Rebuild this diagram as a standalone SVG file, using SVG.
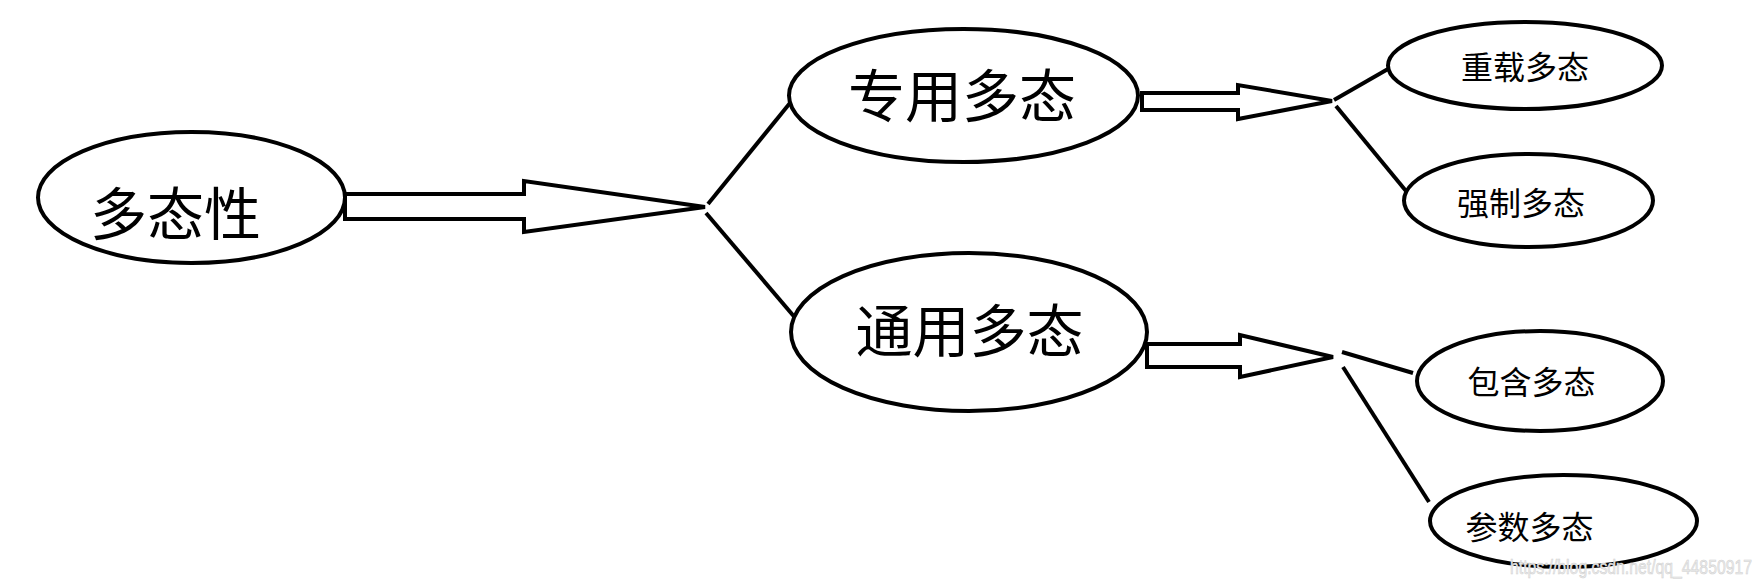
<svg xmlns="http://www.w3.org/2000/svg" width="1764" height="586" viewBox="0 0 1764 586">
<style>
.node ellipse{fill:#fff;stroke:#000;stroke-width:4}
.lbl{font-family:"Noto Sans CJK SC","Noto Sans CJK JP",sans-serif;fill:#000;text-anchor:middle}
.big{font-size:57px}
.small{font-size:32px}
.arrow{fill:#fff;stroke:#000;stroke-width:4;stroke-linejoin:miter}
.link{stroke:#000;stroke-width:4;fill:none}
.wm{font-family:"Liberation Sans",Arial,sans-serif;font-size:21px;fill:#ececec;stroke:#d0d0d0;stroke-width:0.6}
</style>
<rect width="1764" height="586" fill="#fff"/>
<g id="connectors">
<polygon class="arrow" points="345,194 524,194 524,181 705,207 524,232 524,219 345,219"/>
<polygon class="arrow" points="1142,93 1238,93 1238,85 1332,101 1238,119 1238,110 1142,110"/>
<polygon class="arrow" points="1147,344 1240,344 1240,335 1333,357 1240,377 1240,367 1147,367"/>
<line class="link" x1="708" y1="204" x2="790" y2="103"/>
<line class="link" x1="706" y1="213" x2="797" y2="320"/>
<line class="link" x1="1334" y1="100" x2="1388" y2="69"/>
<line class="link" x1="1336" y1="106" x2="1406" y2="191"/>
<line class="link" x1="1342" y1="352" x2="1413" y2="373"/>
<line class="link" x1="1343" y1="367" x2="1429" y2="502"/>
</g>
<g id="n-polymorphism" class="node">
<ellipse cx="191.5" cy="197.5" rx="153.5" ry="65.5"/>
<text class="lbl big" x="175.5" y="235">多态性</text>
</g>
<g id="n-adhoc" class="node">
<ellipse cx="963.5" cy="95.5" rx="174.5" ry="66.5"/>
<text class="lbl big" x="962" y="117">专用多态</text>
</g>
<g id="n-universal" class="node">
<ellipse cx="969" cy="332" rx="178" ry="79"/>
<text class="lbl big" x="969.5" y="351.5">通用多态</text>
</g>
<g id="n-overload" class="node">
<ellipse cx="1525" cy="65.5" rx="137" ry="43.5"/>
<text class="lbl small" x="1525" y="78.5">重载多态</text>
</g>
<g id="n-coercion" class="node">
<ellipse cx="1528.5" cy="200.5" rx="124.5" ry="46.5"/>
<text class="lbl small" x="1521" y="215">强制多态</text>
</g>
<g id="n-inclusion" class="node">
<ellipse cx="1540" cy="381" rx="123" ry="50"/>
<text class="lbl small" x="1531.5" y="394">包含多态</text>
</g>
<g id="n-parametric" class="node">
<ellipse cx="1563.5" cy="521" rx="133.5" ry="46"/>
<text class="lbl small" x="1529.5" y="539">参数多态</text>
</g>
<text class="wm" x="1510" y="574" textLength="242" lengthAdjust="spacingAndGlyphs">https://blog.csdn.net/qq_44850917</text>
</svg>
